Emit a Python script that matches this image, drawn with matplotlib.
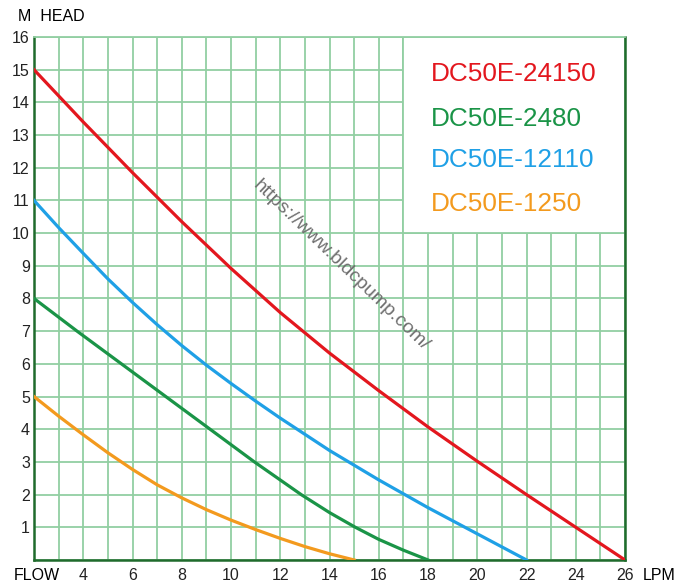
import numpy as np
import matplotlib
matplotlib.use("Agg")
import matplotlib.pyplot as plt
import matplotlib.patches as mpatches

plt.rcParams['font.family'] = ['Liberation Sans', 'DejaVu Sans']

# curves (flow in LPM, head in m)
red_flow = [2, 4, 6, 8, 10, 12, 14, 16, 18, 20, 22, 24, 26]
red_head = [15, 13.4, 11.85, 10.35, 8.92, 7.57, 6.33, 5.18, 4.07, 3.02, 2.0, 1.0, 0]

green_flow = [2, 3.75, 5.55, 7.35, 9.15, 10.95, 12.85, 14, 15.05, 16, 17, 18]
green_head = [8, 7, 6, 5, 4, 3, 2, 1.45, 1, 0.63, 0.3, 0]

blue_flow = [2, 3, 4, 5, 6, 7, 8, 9, 10, 11, 12, 14, 16, 18, 20, 22]
blue_head = [11, 10.17, 9.38, 8.6, 7.88, 7.2, 6.56, 5.96, 5.4, 4.86, 4.34, 3.35, 2.45, 1.6, 0.8, 0]

orange_flow = [2, 3, 4, 5, 6, 7, 8, 9, 10, 11, 12, 13, 14, 15]
orange_head = [5, 4.4, 3.83, 3.28, 2.77, 2.3, 1.9, 1.54, 1.22, 0.93, 0.66, 0.41, 0.19, 0]

models = ['DC50E-24150', 'DC50E-2480', 'DC50E-12110', 'DC50E-1250']
colors = ['#e3171e', '#1a9447', '#1fa0e6', '#f39a1e']

grid_col = '#92cfa2'
spine_col = '#1f6b2c'

fig = plt.figure(figsize=(6.9, 5.83), dpi=100)
ax = fig.add_axes([0.0493, 0.0395, 0.8565, 0.897])

ax.set_xlim(2, 26)
ax.set_ylim(0, 16)
ax.set_xticks(np.arange(4, 27, 2))
ax.set_xticks(np.arange(2, 27, 1), minor=True)
ax.set_yticks(np.arange(1, 17, 1))
ax.set_yticks(np.arange(0, 17, 1), minor=True)
ax.tick_params(which='both', length=0)
ax.tick_params(axis='x', pad=6, labelsize=11.5, colors='#222222')
ax.tick_params(axis='y', pad=3, labelsize=11.5, colors='#222222')
ax.set_axisbelow(True)
ax.grid(which='both', color=grid_col, linewidth=1.3)

for s in ['left', 'bottom', 'right']:
    ax.spines[s].set_color(spine_col)
    ax.spines[s].set_linewidth(1.8)
ax.spines['top'].set_color(grid_col)
ax.spines['top'].set_linewidth(1.3)

# white panel for the model names
box = mpatches.Rectangle((17, 10), 9, 6, facecolor='white', edgecolor=grid_col,
                         linewidth=1.3, zorder=1)
ax.add_patch(box)

ax.plot(red_flow, red_head, color=colors[0], lw=2.3, zorder=3)
ax.plot(green_flow, green_head, color=colors[1], lw=2.3, zorder=3)
ax.plot(blue_flow, blue_head, color=colors[2], lw=2.3, zorder=3)
ax.plot(orange_flow, orange_head, color=colors[3], lw=2.3, zorder=3)

ys = [14.87, 13.5, 12.23, 10.9]
for name, c, y in zip(models, colors, ys):
    ax.text(18.1, y, name, color=c, fontsize=18.8, va='center', ha='left', zorder=4)

ax.text(14.45, 9.0, 'https://www.bldcpump.com/', color='#707070', fontsize=14,
        rotation=-44, ha='center', va='center', rotation_mode='anchor', zorder=4)

ax.text(2.12, -0.46, 'FLOW', fontsize=11.5, ha='center', va='center', clip_on=False)
ax.text(27.4, -0.46, 'LPM', fontsize=11.5, ha='center', va='center', clip_on=False)
ax.text(1.33, 16.64, 'M  HEAD', fontsize=11.5, ha='left', va='center', clip_on=False)

fig.savefig('out.png', dpi=100, facecolor='white')
